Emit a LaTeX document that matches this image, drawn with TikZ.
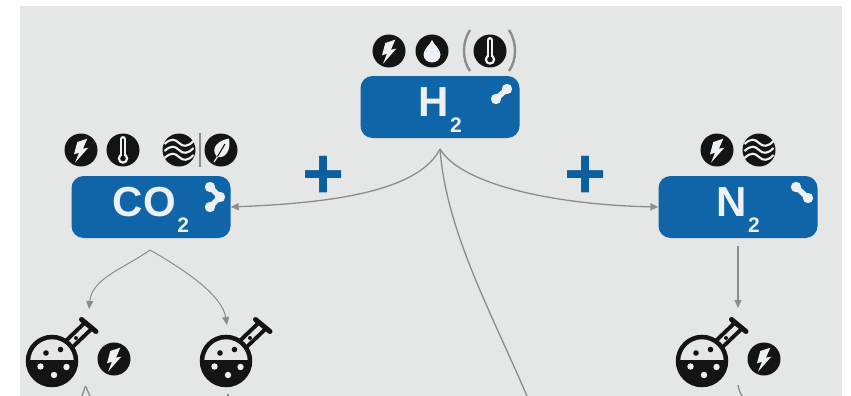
\documentclass[tikz,border=0pt]{standalone}
\usepackage{fontspec}
\setmainfont{Liberation Sans}
\usetikzlibrary{arrows.meta}
\definecolor{panelgrey}{HTML}{E5E6E6}
\definecolor{boxblue}{HTML}{0F65A8}
\definecolor{plusblue}{HTML}{0C5F9F}
\definecolor{icondark}{HTML}{141414}
\definecolor{linkgrey}{HTML}{8C8C8A}
\definecolor{textwhite}{HTML}{EDF1F4}
\newcommand{\bigformula}[2]{\raisebox{-9.5pt}[0pt][0pt]{\fontsize{42}{42}\bfseries #1\hspace{1.5pt}\raisebox{-15.5pt}{\fontsize{21}{21}\selectfont #2}}}
\tikzset{
  x=1pt,y=-1pt,
  chembox/.style={draw=none,fill=boxblue,rounded corners=12pt,minimum width=159pt,minimum height=62pt,
    text=textwhite,inner sep=0pt,align=center},
  link/.style={draw=linkgrey,line width=1.3pt,-{Triangle[length=8pt,width=7pt]}},
  plain link/.style={draw=linkgrey,line width=1.3pt},
  plussign/.style={text=plusblue,font=\fontsize{72}{72}\bfseries\selectfont,inner sep=0pt},
  disc/.pic={\fill[icondark] (0,0) circle (16.5);},
  bolt/.pic={\pic{disc};\fill[textwhite] (6.3,-11.3)--(-3.7,-8)--(-7,4.3)--(-2,2.7)--(-6,12.7)--(7.3,-2.3)--(2,-1.3)--cycle;},
  drop/.pic={\pic{disc};\fill[textwhite] (0,-11) .. controls (2,-6) and (8.5,-2) .. (8.5,3.5) .. controls (8.5,8.5) and (4,11.5) .. (0,11.5) .. controls (-4,11.5) and (-8.5,8.5) .. (-8.5,3.5) .. controls (-8.5,-2) and (-2,-6) .. (0,-11)--cycle;},
  thermo/.pic={\pic{disc};
    \draw[textwhite,line width=6pt,line cap=round] (0,-11)--(0,6);
    \fill[textwhite] (0,8.5) circle (5.3);
    \draw[icondark,line width=2.2pt,line cap=round] (0,-10.5)--(0,6);
    \fill[icondark] (0,8.5) circle (2.8);},
  waves/.pic={\pic{disc};
    \foreach \d in {-7,0,7}{
      \draw[textwhite,line width=2.1pt] (-14.5,\d+1) .. controls (-8,\d-5) and (-4,\d-4) .. (0,\d) .. controls (4,\d+4) and (9,\d+4) .. (14.5,\d-2);}},
  leaf/.pic={\pic{disc};
    \fill[textwhite] (-4,7) .. controls (-12,-3) and (-1,-10) .. (8,-11.5) .. controls (10,-2) and (6,9) .. (-4,7)--cycle;
    \draw[textwhite,line width=1.2pt] (-7,12)--(-3,6);
    \draw[icondark,line width=1.1pt] (-3.5,6.5)--(4,-6);},
  dimer/.pic={\draw[textwhite,line width=5.5pt] (-5.5,5)--(5.5,-5);
    \fill[textwhite] (-5.5,5) circle (5.2) (5.5,-5) circle (5.2);},
  dimerb/.pic={\draw[textwhite,line width=5.5pt] (-6,-5.5)--(6,5.5);
    \fill[textwhite] (-6,-5.5) circle (5.2) (6,5.5) circle (5.2);},
  trimer/.pic={\draw[textwhite,line width=5.5pt] (-5,-10)--(5,0)--(-5,10);
    \fill[textwhite] (-5,-10) circle (5.2) (5,0) circle (5.2) (-5,10) circle (5.2);},
  flask/.pic={
    \draw[icondark,line width=13pt] (14,-14)--(36.5,-35.5);
    \draw[panelgrey,line width=5pt] (12,-12)--(36,-35);
    \draw[icondark,line width=5pt,line cap=round] (29.5,-41.5)--(44,-29.5);
    \fill[panelgrey] (0,0) circle (23.5);
    \draw[icondark,line width=4.5pt] (0,0) circle (24);
    \begin{scope}
      \clip (-30,-1) rectangle (30,30);
      \fill[icondark] (0,0) circle (24);
    \end{scope}
    \fill[icondark] (-6,-8) circle (2.8) (8.5,-11.5) circle (2.8) (24,-23) circle (2);
    \fill[textwhite] (-11.5,5.5) circle (3.2) (14.5,6) circle (3.2) (2,14) circle (3.2);},
  greyparen/.style={draw=linkgrey,line width=2.4pt},
}
\begin{document}
\begin{tikzpicture}
\useasboundingbox (0,0) rectangle (851,396);
\fill[white] (0,0) rectangle (851,396);
\fill[panelgrey] (20,6) rectangle (842,396);

% boxes
\node[chembox] (h2) at (440,107) {\bigformula{H}{2}};
\node[chembox] (co2) at (151,207) {\bigformula{CO}{2}};
\node[chembox] (n2) at (738,207) {\bigformula{N}{2}};
\pic at (501.5,94) {dimer};
\pic at (215,197) {trimer};
\pic at (802,192.5) {dimerb};

% pluses
\node[plussign] (plusa) at (324,177) {+};
\node[plussign] (plusb) at (586,177) {+};

% icons
\pic at (389,51) {bolt};
\pic at (432,51) {drop};
\pic at (490,51) {thermo};
\draw[greyparen] (470,30) .. controls (462,42) and (462,60) .. (470,71);
\draw[greyparen] (509,30) .. controls (517,42) and (517,60) .. (509,71);
\pic at (81,150) {bolt};
\pic at (123,150) {thermo};
\pic at (179,150) {waves};
\draw[linkgrey,line width=1.3pt] (200,133)--(200,167);
\pic at (221,150) {leaf};
\pic at (717,150) {bolt};
\pic at (759,150) {waves};

% flasks
\pic at (52,361) {flask};
\pic at (226,361) {flask};
\pic at (702,361) {flask};
\pic at (114,359) {bolt};
\pic at (764,359) {bolt};

% connector ends
\coordinate (hub) at (440,149);
\coordinate (fork) at (150,250);
\coordinate (flaska) at (89,309);
\coordinate (flaskb) at (227,325);
\coordinate (flaskc) at (738,308);
\coordinate (offpage) at (527,396);
\coordinate (stema) at (85.5,386);
\coordinate (stemal) at (82,396);
\coordinate (stemar) at (90,396);
\coordinate (stemb) at (228,394);
\coordinate (stembe) at (228,396);
\coordinate (stemc) at (738,385);
\coordinate (stemce) at (742,396);
\coordinate (n2out) at (738,246);

\draw[link] (hub) .. controls (418,192) and (330,203) .. (co2.east);
\draw[link] (hub) .. controls (462,186) and (560,205) .. (n2.west);
\draw[plain link] (hub) .. controls (446,230) and (490,310) .. (offpage);
\draw[link,line width=1pt] (fork) .. controls (125,268) and (92,278) .. (flaska);
\draw[link,line width=1pt] (fork) .. controls (185,270) and (222,295) .. (flaskb);
\draw[link] (n2out) -- (flaskc);
\draw[plain link] (stema) -- (stemal);
\draw[plain link] (stema) -- (stemar);
\draw[plain link] (stemb) -- (stembe);
\draw[plain link] (stemc) .. controls (739,390) .. (stemce);
\end{tikzpicture}
\end{document}
